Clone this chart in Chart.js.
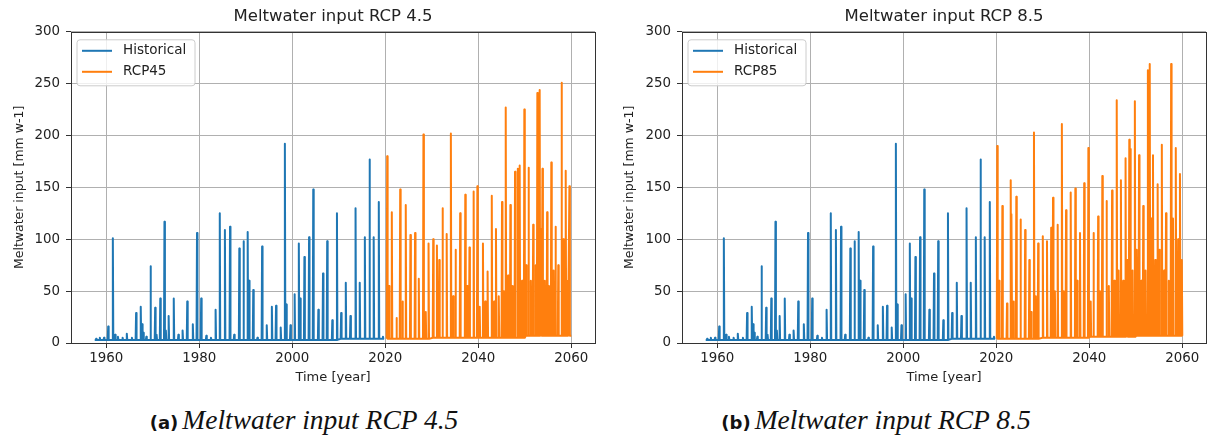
<!DOCTYPE html>
<html>
<head>
<meta charset="utf-8">
<script src="https://cdn.jsdelivr.net/npm/chart.js@4/dist/chart.umd.min.js"></script>
<style>
  body { margin: 0; background: #fff; width: 1208px; height: 438px; position: relative; overflow: hidden; }
  canvas { position: absolute; top: 0; }
  #left { left: 0; }
  #right { left: 610px; }
  .caption { position: absolute; top: 404px; transform: translateX(-50%); white-space: nowrap; color: #111; }
  .caption b { font-family: "DejaVu Sans"; font-size: 18px; }
  .caption i { font-family: "Liberation Serif"; font-size: 27.5px; }
</style>
</head>
<body>
<canvas id="left" width="605" height="390"></canvas>
<canvas id="right" width="598" height="390"></canvas>
<div class="caption" style="left:304px"><b>(a)</b> <i>Meltwater input RCP 4.5</i></div>
<div class="caption" style="left:876px"><b>(b)</b> <i>Meltwater input RCP 8.5</i></div>
<script>
// yearly melt peaks (year, mm w-1)
const histYears = [
  1957.8, 1958.6, 1959.5, 1960.4, 1961.4, 1961.9, 1962.5, 1963.5, 1964.4, 1965.5,
  1966.4, 1967.4, 1967.7, 1968.0, 1968.6, 1969.5, 1970.5, 1970.8, 1971.6, 1972.5,
  1972.8, 1973.4, 1974.5, 1975.5, 1976.4, 1977.4, 1978.6, 1979.5, 1980.4, 1981.5,
  1982.5, 1983.5, 1984.4, 1985.5, 1986.6, 1987.5, 1988.6, 1989.5, 1990.4, 1990.7,
  1991.6, 1992.5, 1993.5, 1994.5, 1995.6, 1996.5, 1997.5, 1998.4, 1998.7, 1999.6,
  2000.5, 2001.4, 2001.7, 2002.6, 2003.6, 2004.5, 2005.6, 2006.6, 2007.5, 2008.6,
  2009.6, 2010.5, 2011.5, 2012.5, 2013.6, 2014.5, 2015.6, 2016.6, 2017.5, 2018.6,
  2019.5
];
const histPeaks = [
  4, 5, 5, 16, 101, 8, 6, 5, 9, 5,
  29, 35, 18, 10, 6, 74, 34, 8, 43, 117,
  12, 26, 43, 8, 12, 40, 18, 106, 43, 7,
  5, 32, 125, 109, 112, 8, 91, 98, 107, 60,
  51, 5, 93, 17, 35, 36, 15, 192, 37, 17,
  47, 96, 43, 83, 102, 148, 32, 67, 98, 22,
  125, 29, 58, 26, 130, 58, 102, 177, 102, 136,
  6
];
const histBase = [3, 3, 3, 3, 3, 3, 4];   // per decade from 1950
const histSpan = [1957.5, 2019.75];

const rcp45Years = [
  2020.4, 2020.8, 2021.4, 2022.4, 2023.2, 2023.7, 2024.4, 2025.4, 2026.4, 2027.2,
  2028.2, 2028.7, 2029.3, 2030.3, 2031.1, 2031.6, 2032.3, 2033.2, 2034.1, 2034.6,
  2035.1, 2036.1, 2037.2, 2037.6, 2038.1, 2039.0, 2039.8, 2040.3, 2041.0, 2041.5,
  2042.0, 2042.9, 2043.4, 2043.8, 2044.4, 2045.1, 2045.5, 2045.9, 2046.4, 2046.9,
  2047.4, 2047.9, 2048.5, 2048.9, 2049.4, 2049.9, 2050.3, 2050.8, 2051.3, 2051.8,
  2052.3, 2052.7, 2053.2, 2053.5, 2053.8, 2054.3, 2054.8, 2055.2, 2055.7, 2056.2,
  2056.6, 2057.2, 2057.9, 2058.3, 2058.8, 2059.2, 2059.6
];
const rcp45Peaks = [
  180, 55, 126, 24, 148, 40, 133, 104, 106, 62,
  201, 30, 96, 100, 94, 80, 130, 105, 202, 45,
  90, 125, 143, 55, 92, 146, 151, 35, 96, 40,
  69, 142, 40, 110, 45, 136, 50, 227, 65, 133,
  55, 165, 168, 171, 60, 225, 75, 169, 60, 114,
  75, 241, 244, 110, 168, 60, 126, 55, 174, 70,
  112, 75, 251, 100, 166, 60, 151
];
const rcp45Base = [4, 5, 5, 7];   // per decade from 2020

const rcp85Years = [
  2020.2, 2020.6, 2021.3, 2022.3, 2023.1, 2023.3, 2023.7, 2024.3, 2025.2, 2026.2,
  2027.1, 2027.5, 2028.1, 2028.5, 2029.0, 2030.0, 2030.9, 2031.8, 2032.2, 2032.6,
  2033.2, 2034.1, 2034.5, 2035.0, 2036.0, 2037.0, 2037.4, 2038.0, 2038.9, 2039.8,
  2040.3, 2040.9, 2041.9, 2042.3, 2042.8, 2043.7, 2044.2, 2044.9, 2045.4, 2045.9,
  2046.3, 2046.8, 2047.3, 2047.8, 2048.2, 2048.6, 2048.8, 2049.3, 2049.8, 2050.2,
  2050.7, 2051.2, 2051.6, 2052.1, 2052.6, 2053.0, 2053.3, 2053.7, 2054.2, 2054.7,
  2055.1, 2055.6, 2056.1, 2056.5, 2057.1, 2057.6, 2058.0, 2058.6, 2059.1, 2059.5,
  2059.9
];
const rcp85Peaks = [
  190, 60, 132, 38, 157, 124, 40, 141, 119, 109,
  80, 30, 203, 45, 96, 103, 98, 111, 140, 50,
  114, 211, 50, 128, 145, 149, 60, 106, 154, 188,
  40, 106, 122, 50, 161, 137, 55, 147, 60, 234,
  70, 157, 60, 178, 80, 196, 187, 70, 233, 90,
  181, 60, 132, 70, 263, 269, 120, 181, 80, 153,
  90, 191, 70, 125, 60, 269, 120, 188, 100, 163,
  80
];
const rcp85Base = [4, 5, 6, 7];
const rcpSpan = [2019.8, 2060];

const xTicks = [1960, 1980, 2000, 2020, 2040, 2060];
const yTicks = [0, 50, 100, 150, 200, 250, 300];

const BLUE = '#1f77b4';
const ORANGE = '#ff7f0e';
const TEXT = '#222';

// turn the peak list into a spiky weekly-like series
function spikes(years, peaks, base, firstDecade, span) {
  const lvl = yr => base[Math.min(base.length - 1, Math.floor((yr - firstDecade) / 10))];
  const pts = [{ x: span[0], y: lvl(span[0]) }];
  years.forEach((yr, i) => {
    pts.push({ x: yr - 0.1, y: lvl(yr) });
    pts.push({ x: yr, y: peaks[i] });
    pts.push({ x: yr + 0.1, y: lvl(yr) });
  });
  pts.push({ x: span[1], y: lvl(span[1]) });
  return pts;
}

const frameAndLegend = {
  id: 'frameAndLegend',
  afterDraw(chart) {
    const ctx = chart.ctx;
    const a = chart.chartArea;
    ctx.save();
    ctx.strokeStyle = '#333';
    ctx.lineWidth = 1;
    ctx.strokeRect(Math.round(a.left) + 0.5, Math.round(a.top) + 0.5,
      Math.round(a.right - a.left), Math.round(a.bottom - a.top));

    // legend box in the upper left corner
    const bx = a.left + 6, by = a.top + 8, bw = 118, bh = 46;
    ctx.beginPath();
    ctx.roundRect(bx, by, bw, bh, 3);
    ctx.fillStyle = 'rgba(255,255,255,0.8)';
    ctx.fill();
    ctx.strokeStyle = '#ccc';
    ctx.stroke();
    ctx.font = '13.5px "DejaVu Sans"';
    ctx.textBaseline = 'middle';
    chart.data.datasets.forEach((ds, i) => {
      const y = by + 11 + i * 21;
      ctx.strokeStyle = ds.borderColor;
      ctx.lineWidth = 2;
      ctx.beginPath();
      ctx.moveTo(bx + 5, y);
      ctx.lineTo(bx + 35, y);
      ctx.stroke();
      ctx.fillStyle = TEXT;
      ctx.fillText(ds.label, bx + 46, y);
    });
    ctx.restore();
  }
};

function makeChart(id, title, rcpLabel, rcpYears, rcpPeaks, rcpBase, yWidth, padRight) {
  return new Chart(document.getElementById(id), {
    type: 'line',
    data: {
      datasets: [{
        label: 'Historical',
        data: spikes(histYears, histPeaks, histBase, 1950, histSpan),
        borderColor: BLUE,
        borderWidth: 2,
        pointRadius: 0,
        borderJoinStyle: 'round',
        tension: 0
      }, {
        label: rcpLabel,
        data: spikes(rcpYears, rcpPeaks, rcpBase, 2020, rcpSpan),
        borderColor: ORANGE,
        borderWidth: 2,
        pointRadius: 0,
        borderJoinStyle: 'round',
        tension: 0
      }]
    },
    options: {
      responsive: false,
      animation: false,
      events: [],
      layout: { padding: { left: 0, right: padRight, top: 0, bottom: 0 } },
      plugins: {
        legend: { display: false },
        tooltip: { enabled: false },
        title: {
          display: true,
          text: title,
          fullSize: false,
          color: TEXT,
          font: { family: 'DejaVu Sans', size: 16.5, weight: 'normal' },
          padding: { top: 7, bottom: 5 }
        }
      },
      scales: {
        x: {
          type: 'linear',
          min: 1952.4,
          max: 2065.1,
          afterBuildTicks: s => { s.ticks = xTicks.map(v => ({ value: v })); },
          afterFit: s => { s.height = 47; },
          ticks: {
            color: TEXT,
            padding: 2,
            maxRotation: 0,
            font: { family: 'DejaVu Sans', size: 13.4 },
            callback: v => String(v)
          },
          grid: { color: '#b0b0b0', lineWidth: 1, tickLength: 5, tickColor: '#333' },
          border: { display: false },
          title: {
            display: true,
            text: 'Time [year]',
            color: TEXT,
            font: { family: 'DejaVu Sans', size: 13 },
            padding: { top: 0, bottom: 5 }
          }
        },
        y: {
          min: 0,
          max: 300,
          afterBuildTicks: s => { s.ticks = yTicks.map(v => ({ value: v })); },
          afterFit: s => { s.width = yWidth; },
          ticks: {
            color: TEXT,
            padding: 6,
            font: { family: 'DejaVu Sans', size: 13.4 }
          },
          grid: { color: '#b0b0b0', lineWidth: 1, tickLength: 5, tickColor: '#333' },
          border: { display: false },
          title: {
            display: true,
            text: 'Meltwater input [mm w-1]',
            color: TEXT,
            font: { family: 'DejaVu Sans', size: 12.5 },
            padding: { top: 12, bottom: 0 }
          }
        }
      }
    },
    plugins: [frameAndLegend]
  });
}

makeChart('left', 'Meltwater input RCP 4.5', 'RCP45', rcp45Years, rcp45Peaks, rcp45Base, 71, 10);
makeChart('right', 'Meltwater input RCP 8.5', 'RCP85', rcp85Years, rcp85Peaks, rcp85Base, 72, 2);
</script>
</body>
</html>
